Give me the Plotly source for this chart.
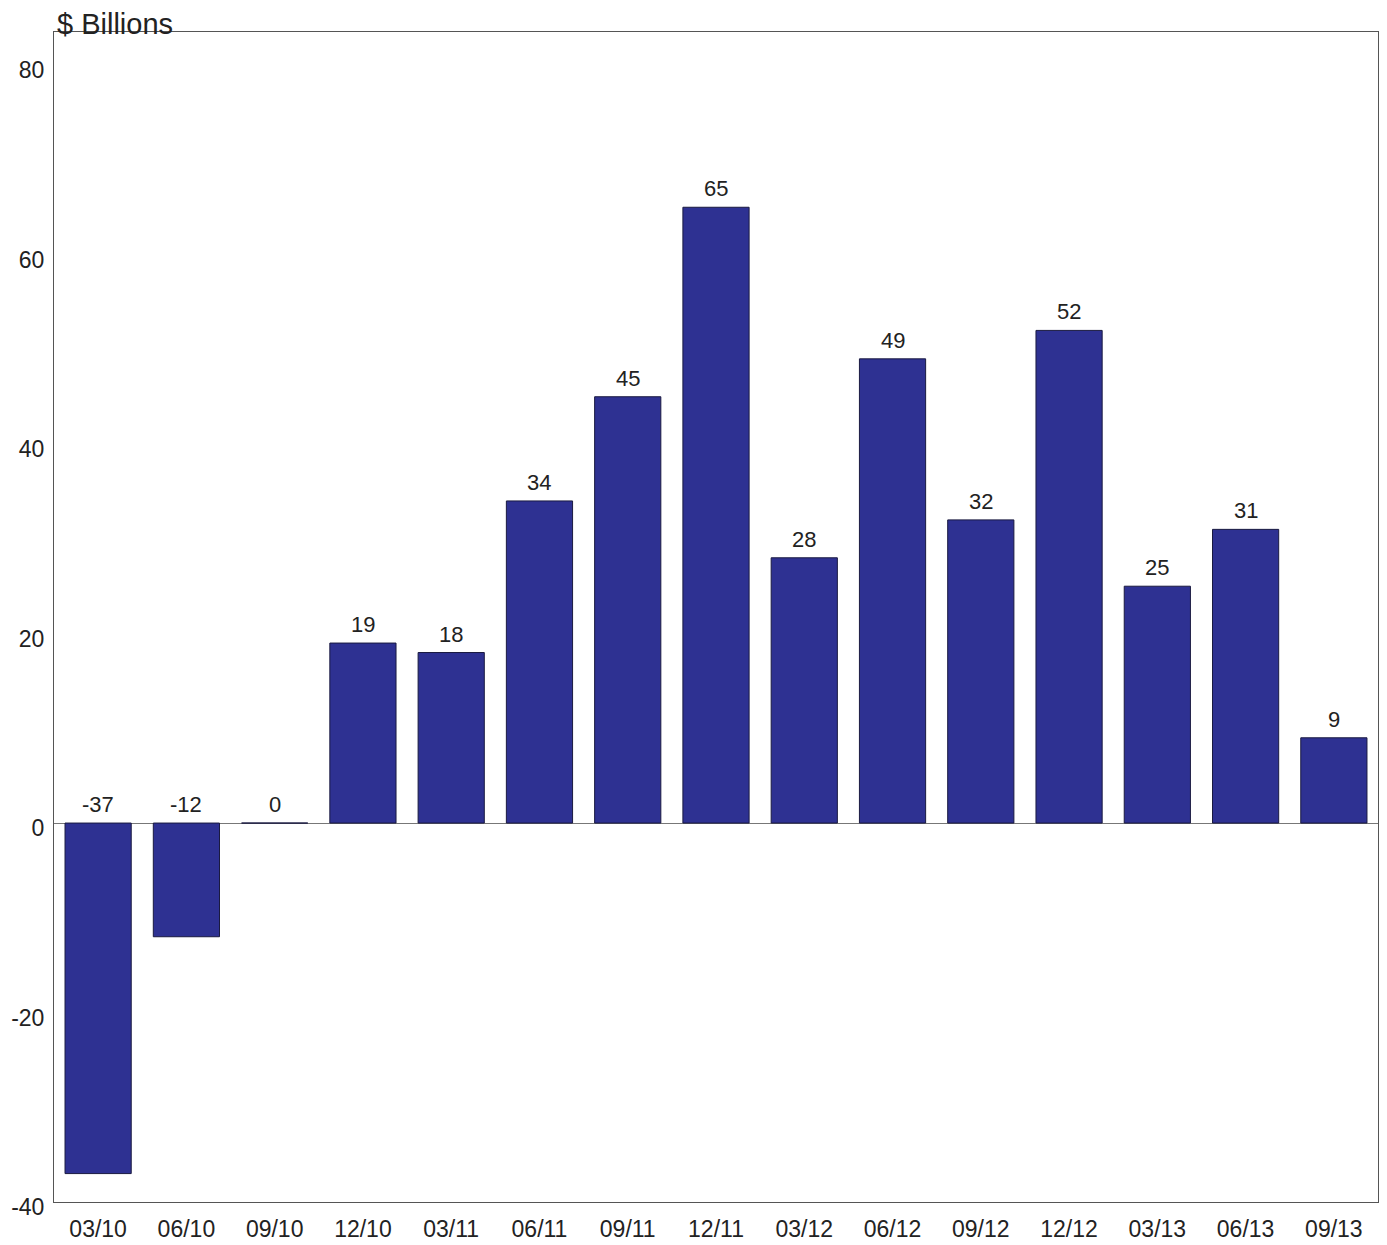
import plotly.graph_objects as go

categories = ["03/10", "06/10", "09/10", "12/10", "03/11", "06/11", "09/11", "12/11",
              "03/12", "06/12", "09/12", "12/12", "03/13", "06/13", "09/13"]
values = [-37, -12, 0, 19, 18, 34, 45, 65, 28, 49, 32, 52, 25, 31, 9]
y_ticks = [-40, -20, 0, 20, 40, 60, 80]
y_tick_labels = ["-40", "-20", "0", "20", "40", "60", "80"]

FONT = "Liberation Sans, Arial, sans-serif"

fig = go.Figure()
fig.add_trace(go.Bar(
    x=categories, y=values,
    marker=dict(color="#2E3192", line=dict(color="#1a1a40", width=1)),
    hoverinfo="x+y",
))

for c, v in zip(categories, values):
    fig.add_annotation(x=c, y=max(v, 0), text=str(v), showarrow=False,
                       yanchor="bottom", yshift=4,
                       font=dict(family=FONT, size=22, color="#222222"))

fig.add_annotation(xref="paper", yref="paper", x=0, y=1, xanchor="left", yanchor="middle",
                   xshift=2, yshift=8, text="$ Billions", showarrow=False, borderpad=0,
                   font=dict(family=FONT, size=29, color="#222222"))

fig.update_layout(
    width=1379, height=1237,
    margin=dict(l=46, r=9, t=24, b=43, autoexpand=False),
    paper_bgcolor="white", plot_bgcolor="white",
    bargap=0.25, showlegend=False,
    font=dict(family=FONT, color="#222222"),
)
fig.update_xaxes(showgrid=False, showline=True, linecolor="#555555", linewidth=1, mirror=True,
                 ticks="", automargin=False, ticklabelstandoff=6,
                 tickfont=dict(size=23, family=FONT, color="#222222"))
fig.update_yaxes(range=[-40, 83.5], tickvals=y_ticks, ticktext=y_tick_labels, showgrid=False,
                 showline=True, linecolor="#555555", linewidth=1, mirror=True,
                 zeroline=True, zerolinecolor="#777777", zerolinewidth=1,
                 ticks="", automargin=False, ticklabelstandoff=4, ticklabelshift=5,
                 tickfont=dict(size=23, family=FONT, color="#222222"))

fig.write_html("out.html")
